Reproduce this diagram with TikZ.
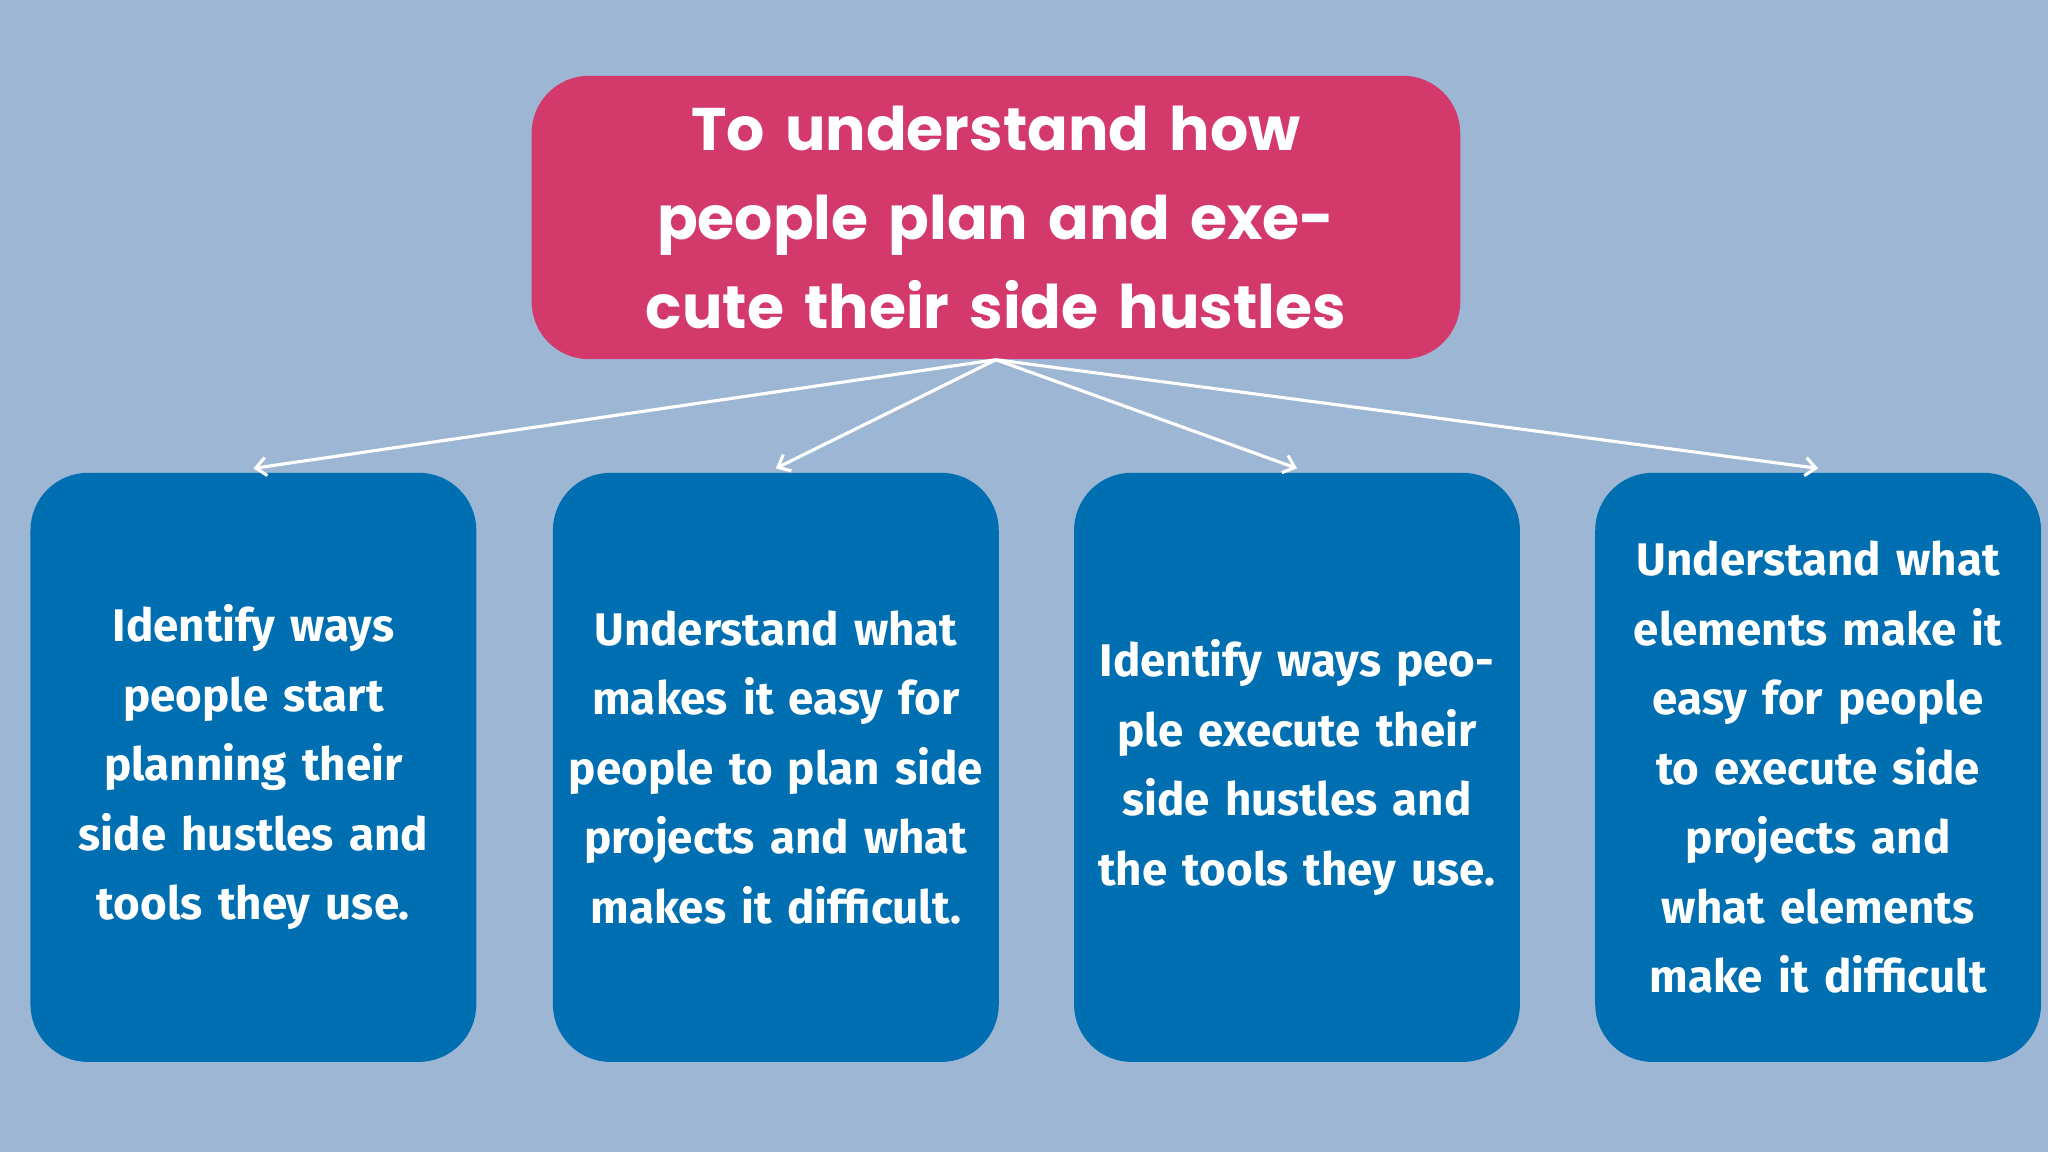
\documentclass[tikz,border=0pt]{standalone}
\usepackage{fontspec}
\setmainfont{Poppins}
\newfontfamily\boxfont{Fira Sans}
\usetikzlibrary{arrows.meta}
\definecolor{bg}{HTML}{9DB6D4}
\definecolor{topc}{HTML}{D33A6B}
\definecolor{boxc}{HTML}{006FB2}
\tikzset{
 topbox/.style={fill=topc,rounded corners=22pt,minimum width=355.5pt,minimum height=108.5pt,text width=330pt,align=center,text=white,font=\fontsize{23}{34}\selectfont\bfseries},
 subbox/.style={fill=boxc,rounded corners=22pt,minimum width=169pt,minimum height=225.5pt,text width=164pt,align=center,text=white,font=\boxfont\fontsize{17.5}{26.6}\selectfont\bfseries},
 conn/.style={white,line width=1.2pt,-{Straight Barb[length=4pt,width=7pt]}}
}
\begin{document}
\begin{tikzpicture}[x=0.5pt,y=-0.5pt]
\fill[bg] (0,0) rectangle (1568,882);
\useasboundingbox (0,0) rectangle (1568,882);
\node[topbox] (top) at (762.5,166.5) {To understand how people plan and execute their side hustles};
\node[subbox] (a) at (194,587.5) {Identify ways people start planning their side hustles and tools they use.};
\node[subbox] (b) at (594,587.5) {Understand what makes it easy for people to plan side projects and what makes it difficult.};
\node[subbox] (c) at (993,587.5) {Identify ways people execute their side hustles and the tools they use.};
\node[subbox] (d) at (1392,587.5) {Understand what elements make it easy for people to execute side projects and what elements make it difficult};
\foreach \n in {a,b,c,d}{\draw[conn] (top.south) -- ([yshift=1.5pt]\n.north);}
\end{tikzpicture}
\end{document}
